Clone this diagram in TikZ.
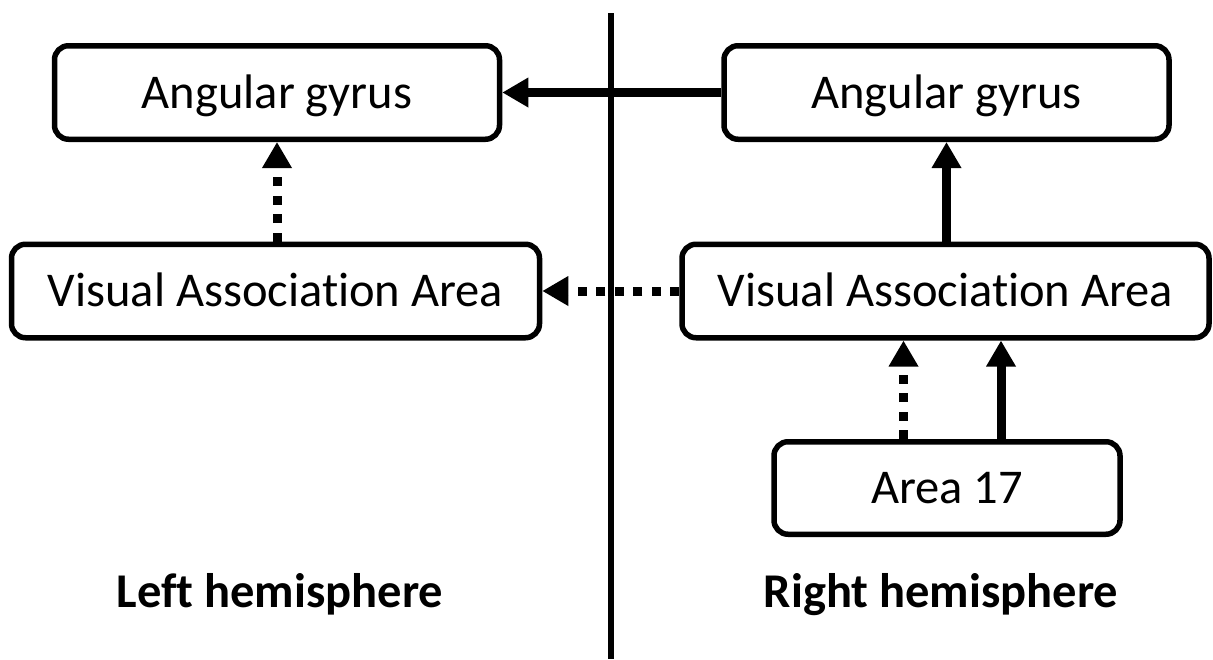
\documentclass[tikz,border=0pt]{standalone}
\usepackage{fontspec}
\setmainfont{Carlito}[Ligatures=NoCommon]
\usetikzlibrary{arrows.meta}
\begin{document}
\begin{tikzpicture}[x=1pt,y=-1pt,
  region/.style={draw=black, line width=5.5pt, rounded corners=14pt,
    minimum height=93.5pt, inner sep=0pt, text height=31.2pt, text depth=0pt,
    font=\fontsize{48.5}{58}\selectfont},
  sidelabel/.style={anchor=base, inner sep=0pt, font=\fontsize{48.5}{58}\selectfont\bfseries},
  solidlink/.style={draw=black, line width=9pt,
    -{Triangle[length=26pt, width=28pt]}},
  dotlink/.style={draw=black, line width=9pt, dash pattern=on 9pt off 9.5pt,
    -{Triangle[length=26pt, width=28pt]}},
  divider/.style={draw=black, line width=6pt}
]
\useasboundingbox (0,0) rectangle (1213,659);

% midline between the hemispheres
\coordinate (divtop) at (610.5,13);
\coordinate (divbot) at (610.5,659);
\draw[divider] (divtop) -- (divbot);

% left hemisphere
\node[region, minimum width=445pt] (lAG) at (277,92.5) {Angular gyrus};
\node[region, minimum width=528pt] (lVAA) at (275.5,291) {Visual Association Area};

% right hemisphere
\node[region, minimum width=445pt] (rAG) at (946.5,92.5) {Angular gyrus};
\node[region, minimum width=527pt] (rVAA) at (945.5,291) {Visual Association Area};
\node[region, minimum width=346pt, minimum height=92.5pt] (A17) at (947,488) {Area 17};

% hemisphere captions
\node[sidelabel] (lcap) at (280,607) {Left hemisphere};
\node[sidelabel] (rcap) at (941,607) {Right hemisphere};

% connections
\draw[solidlink] (rAG.west) -- (lAG.east);
\draw[dotlink] (rVAA.west) -- (lVAA.east);
\draw[dotlink] (lAG.south |- lVAA.north) -- (lAG.south);
\draw[solidlink] (rAG.south |- rVAA.north) -- (rAG.south);
\draw[dotlink] ([xshift=-43.5pt]A17.north) -- ([xshift=-43.5pt]A17.north |- rVAA.south);
\draw[solidlink] ([xshift=54pt]A17.north) -- ([xshift=54pt]A17.north |- rVAA.south);
\end{tikzpicture}
\end{document}
